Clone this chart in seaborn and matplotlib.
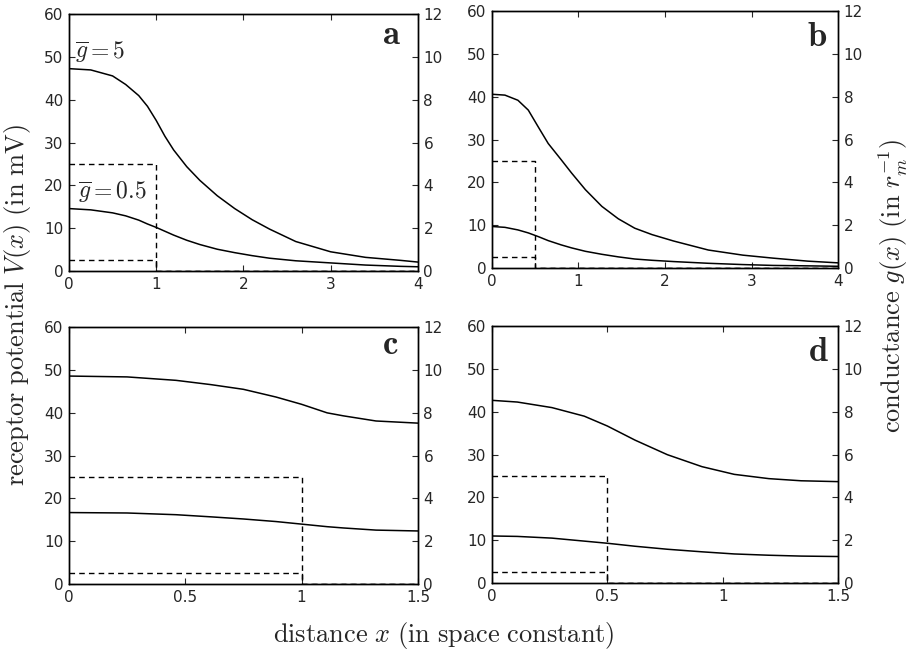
import numpy as np
import pandas as pd
import matplotlib
matplotlib.use("Agg")
import matplotlib.pyplot as plt
import seaborn as sns

# ---------------- data ----------------
# panel a (x in 0..4, step at x=1)
xa = [0, 0.25, 0.5, 0.65, 0.8, 0.9, 1.0, 1.1, 1.2, 1.35, 1.5, 1.7, 1.9, 2.1, 2.3, 2.6, 3.0, 3.4, 3.8, 4.0]
Va_hi = [47.3, 47.0, 45.6, 43.6, 41.0, 38.5, 35.2, 31.5, 28.3, 24.4, 21.2, 17.6, 14.6, 12.0, 9.8, 6.9, 4.5, 3.2, 2.5, 2.1]
Va_lo = [14.6, 14.3, 13.6, 12.9, 11.9, 11.0, 10.2, 9.3, 8.4, 7.2, 6.2, 5.1, 4.3, 3.6, 3.0, 2.4, 1.9, 1.4, 1.1, 1.0]
# panel b (x in 0..4, step at x=0.5)
xb = [0, 0.15, 0.3, 0.42, 0.54, 0.65, 0.8, 0.92, 1.08, 1.27, 1.46, 1.65, 1.85, 2.1, 2.5, 2.9, 3.25, 3.65, 4.0]
Vb_hi = [40.6, 40.4, 39.2, 36.9, 32.8, 29.1, 25.3, 22.2, 18.3, 14.4, 11.5, 9.3, 7.8, 6.3, 4.2, 3.0, 2.3, 1.6, 1.2]
Vb_lo = [9.7, 9.5, 8.9, 8.2, 7.3, 6.4, 5.4, 4.7, 3.9, 3.2, 2.6, 2.1, 1.8, 1.5, 1.1, 0.8, 0.6, 0.5, 0.4]
# panel c (x in 0..1.5, step at x=1)
xc = [0, 0.25, 0.46, 0.61, 0.75, 0.89, 1.0, 1.11, 1.18, 1.32, 1.5]
Vc_hi = [48.6, 48.4, 47.6, 46.6, 45.5, 43.7, 42.0, 40.0, 39.3, 38.1, 37.6]
Vc_lo = [16.7, 16.6, 16.2, 15.7, 15.2, 14.6, 14.0, 13.4, 13.1, 12.6, 12.4]
# panel d (x in 0..1.5, step at x=0.5)
xd = [0, 0.11, 0.26, 0.4, 0.5, 0.62, 0.76, 0.91, 1.05, 1.2, 1.34, 1.5]
Vd_hi = [42.7, 42.3, 41.0, 39.0, 36.7, 33.4, 30.0, 27.2, 25.4, 24.4, 23.9, 23.7]
Vd_lo = [11.0, 10.9, 10.5, 9.8, 9.3, 8.6, 7.9, 7.3, 6.8, 6.5, 6.3, 6.2]

g_bar = [5, 0.5]
step_a = 1.0
step_b = 0.5
step_c = 1.0
step_d = 0.5
xmax_ab = 4.0
xmax_cd = 1.5

panel_letters = ["a", "b", "c", "d"]
xticks_ab = [0, 1, 2, 3, 4]
xticks_cd = [0, 0.5, 1, 1.5]
xticklabels_cd = ["0", "0.5", "1", "1.5"]
yticks_left = [0, 10, 20, 30, 40, 50, 60]
yticks_right = [0, 2, 4, 6, 8, 10, 12]

# ---------------- style ----------------
sns.set_style("ticks")
plt.rcParams["font.family"] = ["DejaVu Sans"]
plt.rcParams["mathtext.fontset"] = "cm"

fig = plt.figure(figsize=(9.11, 6.5), dpi=100)

positions = [
    [0.0757, 0.583, 0.383, 0.395],
    [0.540, 0.5877, 0.380, 0.395],
    [0.0757, 0.1015, 0.383, 0.395],
    [0.540, 0.103, 0.380, 0.395],
]

panels = [
    (xa, Va_hi, Va_lo, step_a, xmax_ab, xticks_ab, [str(t) for t in xticks_ab]),
    (xb, Vb_hi, Vb_lo, step_b, xmax_ab, xticks_ab, [str(t) for t in xticks_ab]),
    (xc, Vc_hi, Vc_lo, step_c, xmax_cd, xticks_cd, xticklabels_cd),
    (xd, Vd_hi, Vd_lo, step_d, xmax_cd, xticks_cd, xticklabels_cd),
]

letter_pos = [(0.925, 0.925), (0.94, 0.905), (0.92, 0.935), (0.942, 0.905)]

for i, (x, vhi, vlo, step, xmax, xt, xtl) in enumerate(panels):
    ax = fig.add_axes(positions[i])
    ax2 = ax.twinx()
    df = pd.DataFrame({"x": list(x) * 2, "V": list(vhi) + list(vlo),
                       "curve": ["hi"] * len(x) + ["lo"] * len(x)})
    for c in ["hi", "lo"]:
        sns.lineplot(data=df[df.curve == c], x="x", y="V", ax=ax, color="black",
                     lw=1.1, estimator=None, sort=False)
    for g in g_bar:
        gdf = pd.DataFrame({"x": [0, step, step, xmax], "g": [g, g, 0, 0]})
        sns.lineplot(data=gdf, x="x", y="g", ax=ax2, color="black", lw=1.0,
                     estimator=None, sort=False, dashes=False, linestyle=(0, (4, 3)))
    ax.set_xlim(0, xmax)
    ax.set_ylim(0, 60)
    ax2.set_ylim(0, 12)
    ax.set_xticks(xt)
    ax.set_xticklabels(xtl)
    ax.set_yticks(yticks_left)
    ax2.set_yticks(yticks_right)
    ax.set_xlabel("")
    ax.set_ylabel("")
    ax2.set_ylabel("")
    ax.tick_params(direction="in", length=4, width=0.8, labelsize=11, top=True, pad=4)
    ax2.tick_params(direction="in", length=4, width=0.8, labelsize=11, pad=4)
    for a_ in (ax, ax2):
        for s in a_.spines.values():
            s.set_visible(True)
            s.set_linewidth(1.0)
            s.set_color("black")
    ax.text(letter_pos[i][0], letter_pos[i][1], r"$\mathbf{%s}$" % panel_letters[i],
            transform=ax.transAxes, ha="center", va="center", fontsize=25)
    if i == 0:
        ax.text(0.07, 51, r"$\overline{g}=5$", fontsize=17, ha="left", va="center")
        ax.text(0.1, 18.3, r"$\overline{g}=0.5$", fontsize=17, ha="left", va="center")

fig.text(0.019, 0.53, r"$\mathrm{receptor\ potential}\ V(x)\ \mathrm{(in\ mV)}$",
         rotation=90, ha="center", va="center", fontsize=19)
fig.text(0.98, 0.56, r"$\mathrm{conductance}\ g(x)\ \mathrm{(in}\ r_m^{-1}\mathrm{)}$",
         rotation=90, ha="center", va="center", fontsize=19)
fig.text(0.487, 0.023, r"$\mathrm{distance}\ x\ \mathrm{(in\ space\ constant)}$",
         ha="center", va="center", fontsize=19)

fig.savefig("out.png", dpi=100)
